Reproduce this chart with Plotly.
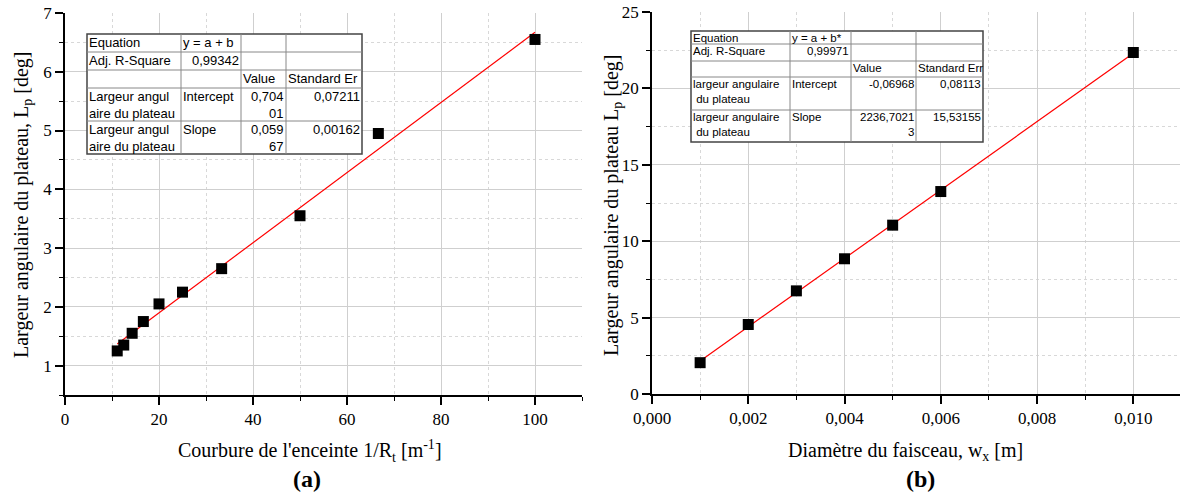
import plotly.graph_objects as go

# ---------------- data ----------------
# (a) curvature vs plateau width
curv_x = [11.11, 12.5, 14.29, 16.67, 20.0, 25.0, 33.33, 50.0, 66.67, 100.0]
curv_y = [1.25, 1.35, 1.55, 1.75, 2.05, 2.25, 2.65, 3.55, 4.95, 6.55]
fit_a_intercept = 0.70401
fit_a_slope = 0.05967

# (b) beam diameter vs plateau width
diam_x = [0.001, 0.002, 0.003, 0.004, 0.005, 0.006, 0.010]
diam_y = [2.05, 4.55, 6.75, 8.85, 11.05, 13.25, 22.35]
fit_b_intercept = -0.06968
fit_b_slope = 2236.70213

# fit tables (text)
table_a = [
    ["Equation", "y = a + b", "", ""],
    ["Adj. R-Square", "0,99342", "", ""],
    ["", "", "Value", "Standard Er"],
    ["Largeur angul<br>aire du plateau", "Intercept", "0,704<br>01", "0,07211"],
    ["Largeur angul<br>aire du plateau", "Slope", "0,059<br>67", "0,00162"],
]
table_b = [
    ["Equation", "y = a + b*", "", ""],
    ["Adj. R-Square", "0,99971", "", ""],
    ["", "", "Value", "Standard Err"],
    ["largeur angulaire<br> du plateau", "Intercept", "-0,06968", "0,08113"],
    ["largeur angulaire<br> du plateau", "Slope", "2236,7021<br>3", "15,53155"],
]
# alignment per cell: 'l' or 'r'
align_tbl = [
    ["l", "l", "l", "l"],
    ["l", "r", "l", "l"],
    ["l", "l", "l", "l"],
    ["l", "l", "r", "r"],
    ["l", "l", "r", "r"],
]

W, H = 1180, 495
def px(x):
    return x / W
def py(y):
    return 1 - y / H

SERIF = "Liberation Serif"
SANS = "Liberation Sans"
GRID = "#cfcfcf"
MINOR_GRID = "#d8d8d8"

fig = go.Figure()

# ---- (a) traces ----
xa_line = [min(curv_x), max(curv_x)]
fig.add_trace(go.Scatter(x=xa_line, y=[fit_a_intercept + fit_a_slope * v for v in xa_line],
                         mode="lines", line=dict(color="red", width=1.2),
                         xaxis="x", yaxis="y", showlegend=False))
fig.add_trace(go.Scatter(x=curv_x, y=curv_y, mode="markers",
                         marker=dict(symbol="square", size=11, color="black"),
                         xaxis="x", yaxis="y", showlegend=False))

# ---- (b) traces ----
xb_line = [min(diam_x), max(diam_x)]
fig.add_trace(go.Scatter(x=xb_line, y=[fit_b_intercept + fit_b_slope * v for v in xb_line],
                         mode="lines", line=dict(color="red", width=1.2),
                         xaxis="x2", yaxis="y2", showlegend=False))
fig.add_trace(go.Scatter(x=diam_x, y=diam_y, mode="markers",
                         marker=dict(symbol="square", size=11, color="black"),
                         xaxis="x2", yaxis="y2", showlegend=False))

tickfont = dict(family=SERIF, size=17, color="black")

def main_axis(domain, rng, dtick, minor_dtick, anchor, side, tickformat=None):
    d = dict(domain=domain, range=rng, dtick=dtick, tick0=0, anchor=anchor, side=side,
             automargin=False,
             showline=True, linecolor="black", linewidth=1.6,
             ticks="outside", ticklen=8, tickwidth=1.5, tickcolor="black",
             showgrid=True, gridcolor=GRID, gridwidth=1, zeroline=False,
             tickfont=tickfont,
             minor=dict(dtick=minor_dtick, tick0=0, ticks="outside", ticklen=4, tickwidth=1.2,
                        tickcolor="black", showgrid=True, gridcolor=MINOR_GRID, griddash="dot",
                        gridwidth=1))
    if tickformat:
        d["tickformat"] = tickformat
    return d

def mirror_axis(overlay, rng, dtick, minor_dtick, anchor, side):
    return dict(overlaying=overlay, range=rng, dtick=dtick, tick0=0, anchor=anchor, side=side,
                automargin=False,
                showline=True, linecolor="black", linewidth=1.6,
                ticks="inside", ticklen=8, tickwidth=1.5, tickcolor="black",
                showticklabels=False, showgrid=False, zeroline=False,
                minor=dict(dtick=minor_dtick, tick0=0, ticks="inside", ticklen=4,
                           tickwidth=1.2, tickcolor="black", showgrid=False))

xa_dom = [px(65), px(582)]
ya_dom = [py(395), py(13)]
xb_dom = [px(652), 1.0]
yb_dom = [py(394), py(12)]
xa_rng = [0, 110]
ya_rng = [0.5, 7]
xb_rng = [0, 0.01097]
yb_rng = [0, 25]

layout = dict(
    width=W, height=H, margin=dict(l=0, r=0, t=0, b=0, autoexpand=False),
    paper_bgcolor="white", plot_bgcolor="white", separators=",.",
    showlegend=False,
    xaxis=main_axis(xa_dom, xa_rng, 20, 10, "y", "bottom"),
    yaxis=main_axis(ya_dom, ya_rng, 1, 0.5, "x", "left"),
    xaxis2=main_axis(xb_dom, xb_rng, 0.002, 0.001, "y2", "bottom", tickformat=".3f"),
    yaxis2=main_axis(yb_dom, yb_rng, 5, 2.5, "x2", "left"),
    xaxis3=mirror_axis("x", xa_rng, 20, 10, "y", "top"),
    yaxis3=mirror_axis("y", ya_rng, 1, 0.5, "x", "right"),
    xaxis4=mirror_axis("x2", xb_rng, 0.002, 0.001, "y2", "top"),
)
fig.update_layout(**layout)

annotations = []
shapes = []

def add_table(tbl, cols, rows, fsize):
    shapes.append(dict(type="rect", xref="paper", yref="paper",
                       x0=px(cols[0]), x1=px(cols[-1]), y0=py(rows[-1]), y1=py(rows[0]),
                       line=dict(color="#444444", width=1.5), fillcolor="white", layer="above"))
    for c in cols[1:-1]:
        shapes.append(dict(type="line", xref="paper", yref="paper",
                           x0=px(c), x1=px(c), y0=py(rows[-1]), y1=py(rows[0]),
                           line=dict(color="#888888", width=1), layer="above"))
    for r in rows[1:-1]:
        shapes.append(dict(type="line", xref="paper", yref="paper",
                           x0=px(cols[0]), x1=px(cols[-1]), y0=py(r), y1=py(r),
                           line=dict(color="#888888", width=1), layer="above"))
    for i, row in enumerate(tbl):
        for j, txt in enumerate(row):
            if not txt:
                continue
            al = align_tbl[i][j]
            x = cols[j] + 1 if al == "l" else cols[j + 1] - 1
            annotations.append(dict(xref="paper", yref="paper",
                                    x=px(x), y=py(rows[i]), text=txt, showarrow=False,
                                    xanchor="left" if al == "l" else "right", yanchor="top",
                                    align="left" if al == "l" else "right",
                                    font=dict(family=SANS, size=fsize, color="black"),
                                    borderpad=0))

add_table(table_a, [87, 181, 241, 286, 362], [34, 52, 70, 88, 121, 154], 13)
add_table(table_b, [691, 790, 851, 916, 983], [31, 44, 61, 77, 110, 142], 11.5)

title_font = dict(family=SERIF, size=20, color="black")
annotations += [
    dict(xref="paper", yref="paper", x=px(22), y=py(205), textangle=-90,
         text="Largeur angulaire du plateau, L<sub>p</sub> [deg]", showarrow=False,
         xanchor="center", yanchor="middle", font=title_font),
    dict(xref="paper", yref="paper", x=px(612), y=py(205), textangle=-90,
         text="Largeur angulaire du plateau L<sub>p</sub> [deg]", showarrow=False,
         xanchor="center", yanchor="middle", font=title_font),
    dict(xref="paper", yref="paper", x=px(310), y=py(451),
         text="Courbure de l'enceinte 1/R<sub>t</sub> [m<sup>-1</sup>]", showarrow=False,
         xanchor="center", yanchor="middle", font=title_font),
    dict(xref="paper", yref="paper", x=px(905), y=py(451),
         text="Diamètre du faisceau, w<sub>x</sub> [m]", showarrow=False,
         xanchor="center", yanchor="middle", font=title_font),
    dict(xref="paper", yref="paper", x=px(307), y=py(479),
         text="<b>(a)</b>", showarrow=False, xanchor="center", yanchor="middle",
         font=dict(family=SERIF, size=24, color="black")),
    dict(xref="paper", yref="paper", x=px(920), y=py(479),
         text="<b>(b)</b>", showarrow=False, xanchor="center", yanchor="middle",
         font=dict(family=SERIF, size=24, color="black")),
]

fig.update_layout(annotations=annotations, shapes=shapes)
fig.write_html("out.html", config={"displayModeBar": False},
               post_script="document.body.style.margin='0';document.body.style.padding='0';"
                           "document.body.style.overflow='hidden';")
